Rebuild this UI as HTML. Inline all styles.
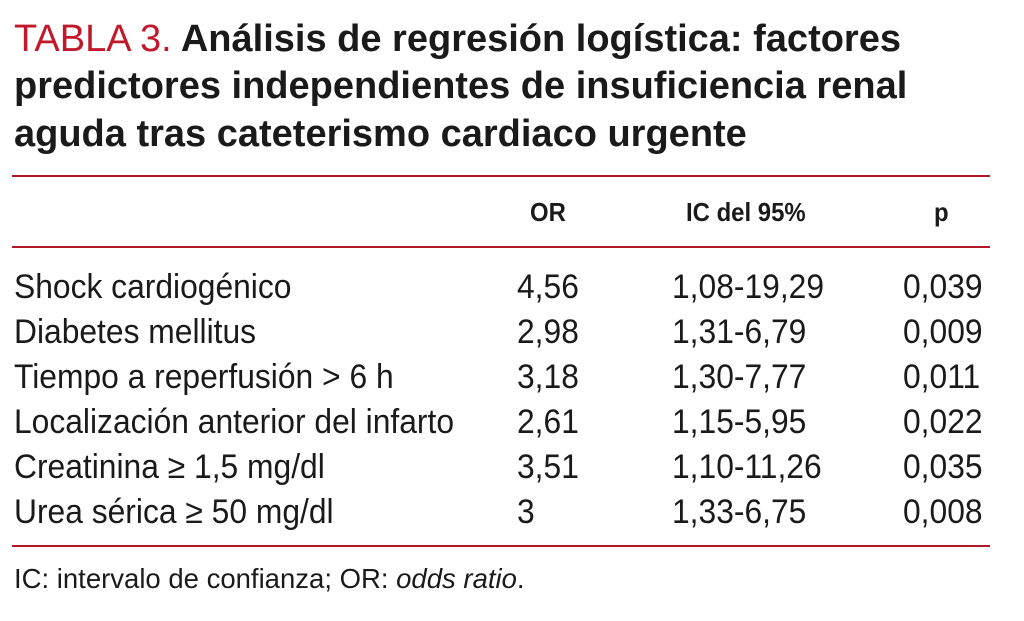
<!DOCTYPE html>
<html><head><meta charset="utf-8"><style>
body{margin:0;width:1024px;height:621px;background:#fff;position:relative;overflow:hidden;font-family:"Liberation Sans",sans-serif;color:#1a1a1a}
.t{position:absolute;left:14px;font-size:38px;font-weight:bold;line-height:38px;white-space:nowrap}
.red{color:#c0192b;font-weight:normal}
.hr{position:absolute;left:12px;width:978px;height:2px;background:#b3172a}
.c{position:absolute;font-family:"Liberation Sans",sans-serif;font-size:34px;line-height:34px;white-space:nowrap;transform:scaleX(0.935);transform-origin:left top}
.h{position:absolute;font-family:"Liberation Sans",sans-serif;font-size:26px;font-weight:bold;line-height:26px;white-space:nowrap;transform:scaleX(0.92);transform-origin:left top}
</style></head><body>
<div class="t" style="top:20px"><span class="red">TABLA 3.</span> Análisis de regresión logística: factores</div>
<div class="t" style="top:67px">predictores independientes de insuficiencia renal</div>
<div class="t" style="top:115px">aguda tras cateterismo cardiaco urgente</div>
<div class="hr" style="top:175px"></div>
<div class="h" style="left:530px;top:199px">OR</div>
<div class="h" style="left:686px;top:199px">IC del 95%</div>
<div class="h" style="left:934px;top:199px">p</div>
<div class="hr" style="top:246px"></div>
<div id="rows"></div>
<div class="hr" style="top:545px"></div>
<div class="c" style="left:14px;top:565px;font-size:27.5px;line-height:28px;transform:none">IC: intervalo de confianza; OR: <i>odds ratio</i>.</div>
<script>
const labels=["Shock cardiogénico","Diabetes mellitus","Tiempo a reperfusión > 6 h","Localización anterior del infarto","Creatinina ≥ 1,5 mg/dl","Urea sérica ≥ 50 mg/dl"];
const ors=["4,56","2,98","3,18","2,61","3,51","3"];
const ics=["1,08-19,29","1,31-6,79","1,30-7,77","1,15-5,95","1,10-11,26","1,33-6,75"];
const ps=["0,039","0,009","0,011","0,022","0,035","0,008"];
const cont=document.getElementById('rows');
labels.forEach((l,i)=>{
 const top=270+i*45;
 [[l,14],[ors[i],517],[ics[i],672],[ps[i],903]].forEach((v,j)=>{
  const d=document.createElement('div');
  d.className='c';
  d.style.left=v[1]+'px';d.style.top=top+'px';
  d.textContent=v[0];
  
  
  cont.appendChild(d);
 });
});
</script>
</body></html>
